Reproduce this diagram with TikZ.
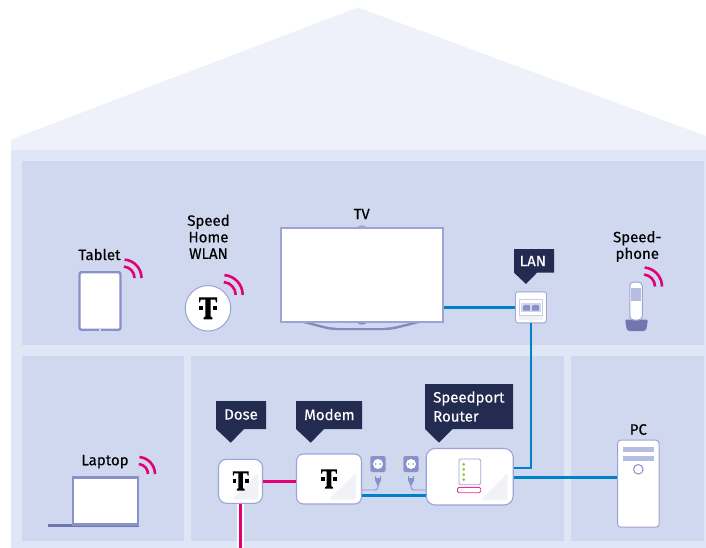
\documentclass[tikz,border=0pt]{standalone}
\usepackage{fontspec}
\setmainfont{Fira Sans}
\newfontfamily\boldish{Fira Sans}[FakeBold=0.35]
\usetikzlibrary{calc}
\definecolor{roofc}{HTML}{EEF1F9}
\definecolor{wallc}{HTML}{DFE7F6}
\definecolor{roomc}{HTML}{CFD8EF}
\definecolor{edgec}{HTML}{9DA3D6}
\definecolor{devc}{HTML}{8A90C8}
\definecolor{darkdev}{HTML}{7076AE}
\definecolor{softc}{HTML}{B5BDE0}
\definecolor{navy}{HTML}{242B50}
\definecolor{magc}{HTML}{E20074}
\definecolor{bluec}{HTML}{0082C8}
\definecolor{foldc}{HTML}{F1F2F8}
\definecolor{greenc}{HTML}{8CC63F}
\tikzset{
 x=1pt,y=-1pt,
 room/.style={fill=roomc,draw=none},
 lbl/.style={font=\boldish\fontsize{15}{16.5}\selectfont,text=black,align=center,inner sep=0pt},
 tag/.style={font=\boldish\fontsize{15}{21}\selectfont,text=white,align=left,inner sep=0pt,anchor=west},
 tagbox/.style={fill=navy,draw=none},
 box/.style={draw=edgec,fill=white,line width=1.1pt,rounded corners=7pt,inner sep=0pt},
 wifi/.style={draw=magc,line width=2.6pt},
 magl/.style={draw=magc,line width=3pt},
 bluel/.style={draw=bluec,line width=3pt},
 bluethin/.style={draw=bluec,line width=2.4pt},
 thinl/.style={draw=devc,line width=0.9pt,rounded corners=3pt},
}
% #1 = centre x, #2 = centre y, #3 = scale : T logo
\newcommand{\tlogo}[3]{%
 \begin{scope}[shift={(#1,#2)},scale=#3]
 \fill[black] (-9,-11) -- (9,-11) -- (9,-6) -- (8,-6) -- (7.3,-8.8) -- (2.6,-8.8)
  -- (2.6,8.2) -- (4.4,9.2) -- (4.4,11) -- (-4.4,11) -- (-4.4,9.2) -- (-2.6,8.2)
  -- (-2.6,-8.8) -- (-7.3,-8.8) -- (-8,-6) -- (-9,-6) -- cycle;
 \fill[black] (-9,-2) rectangle (-5,2);
 \fill[black] (5,-2) rectangle (9,2);
 \end{scope}}
% #1,#2 = arc centre, #3 = outer radius
\newcommand{\wifiarcs}[3]{%
 \draw[wifi] (#1+#3,#2) arc[start angle=0,end angle=-85,radius=#3];
 \draw[wifi] (#1+#3-7,#2) arc[start angle=0,end angle=-85,radius=#3-7];}
% #1 x, #2 y : wall socket and plug
\newcommand{\plug}[2]{%
 \fill[devc,rounded corners=1.5pt] (#1-7.7,#2-8) rectangle (#1+7.7,#2+8);
 \fill[white] (#1,#2) circle (5);
 \fill[devc] (#1-2.2,#2) circle (0.9) (#1+2.2,#2) circle (0.9);
 \fill[devc] (#1-3,#2+12) -- (#1-3,#2+17) -- (#1+3,#2+17) -- (#1+3,#2+12) -- (#1+2,#2+12) -- (#1+2,#2+14) -- (#1-2,#2+14) -- (#1-2,#2+12) -- cycle;
 \fill[devc] (#1-2.5,#2+17) -- (#1+2.5,#2+17) -- (#1,#2+23) -- cycle;}
\begin{document}
\begin{tikzpicture}
\useasboundingbox (0,0) rectangle (706,548);
\fill[white] (0,0) rectangle (706,548);
% house
\fill[roofc] (11,139.5) -- (358,7.5) -- (706,136) -- (706,150) -- (11,150) -- cycle;
\fill[wallc] (11,150) rectangle (706,548);
\fill[room] (22,161) rectangle (704,345);
\fill[room] (22,356) rectangle (184,541);
\fill[room] (191,356) rectangle (564,541);
\fill[room] (571,356) rectangle (704,541);

% devices
\node[draw=devc,fill=white,line width=2.4pt,rounded corners=2pt,minimum width=41pt,minimum height=57.5pt,inner sep=0pt] (tablet) at (100,301) {};
\fill[white] (100,329.8) circle (1);
\node[circle,draw=edgec,fill=white,line width=1pt,minimum size=45.5pt,inner sep=0pt] (wlan) at (208,308.3) {};
\tlogo{208}{308.3}{1}
% TV
\fill[darkdev!85] (298,322) .. controls (318,326) and (325,330) .. (336,330) -- (385,330) .. controls (396,330) and (405,326) .. (424,322) -- cycle;
\fill[roomc] (308,322) .. controls (322,325) and (329,327.8) .. (338,327.8) -- (383,327.8) .. controls (392,327.8) and (400,325) .. (414,322) -- cycle;
\fill[darkdev!85] (357,322) .. controls (358,325.5) and (366,325.5) .. (367,322) -- cycle;
\fill[edgec] (357,228) .. controls (358,224.5) and (366,224.5) .. (367,228) -- cycle;
\node[draw=edgec,fill=white,line width=1.8pt,minimum width=162.5pt,minimum height=93.5pt,inner sep=0pt] (tv) at (362,275) {};
% LAN socket
\node[box,rounded corners=2.5pt,line width=0.9pt,minimum width=31pt,minimum height=31pt] (lan) at (531,307.3) {};
\fill[foldc] (519,315) rectangle (543,320);
\draw[edgec!55,fill=white,line width=0.8pt] (519.5,299.5) rectangle (542.5,315);
\fill[softc!60] (521,303) rectangle (541,312);
\fill[devc] (523,306.5) -- (525,304.8) -- (529,304.8) -- (530,306.5) -- (530,310.5) -- (523,310.5) -- cycle;
\fill[devc] (532,306.5) -- (534,304.8) -- (538,304.8) -- (539,306.5) -- (539,310.5) -- (532,310.5) -- cycle;
% Speedphone
\fill[darkdev,rounded corners=2pt] (625,319.5) -- (648,319.5) -- (646,331) -- (627,331) -- cycle;
\node[draw=edgec,fill=white,line width=1pt,rounded corners=4pt,minimum width=12.5pt,minimum height=38pt,inner sep=0pt] (phone) at (636,301) {};
\fill[softc] (631,288.3) rectangle (641,301);
% Laptop
\fill[darkdev] (48,524) rectangle (139,527);
\node[draw=devc,fill=white,line width=2.2pt,minimum width=65pt,minimum height=47pt,inner sep=0pt] (laptop) at (105.5,501) {};
% Dose
\node[box,rounded corners=8pt,minimum width=44pt,minimum height=44pt] (dose) at (240.5,481.3) {};
\fill[foldc,rounded corners=2pt] (232,499.5) -- (258.3,472.7) -- (258.3,499.5) -- cycle;
\tlogo{240.7}{481}{0.88}
% Modem
\node[box,minimum width=65pt,minimum height=50pt] (modem) at (329,479) {};
\fill[foldc,rounded corners=2pt] (329,499.5) -- (356,473) -- (356,499.5) -- cycle;
\tlogo{329}{479}{0.88}
% Router
\node[box,rounded corners=9pt,minimum width=87pt,minimum height=56.5pt] (router) at (469.7,476.7) {};
\fill[foldc,rounded corners=2pt] (481,500) -- (507.7,473) -- (507.7,500) -- cycle;
\draw[edgec,fill=white,line width=0.9pt,rounded corners=1.5pt] (459,459) rectangle (480.7,484.7);
\foreach \yy in {464.3,469.3,474.7,479.7} \fill[greenc] (463.7,\yy) circle (1.5);
\draw[magc!80,fill=white,line width=0.9pt,rounded corners=1.5pt] (457.5,487.3) rectangle (480.7,492.7);
% PC
\node[draw=edgec,fill=white,line width=1pt,rounded corners=3pt,minimum width=41.5pt,minimum height=87pt,inner sep=0pt] (pc) at (638.3,483.7) {};
\fill[softc] (622.7,446.7) rectangle (654,452.3);
\fill[softc] (622.7,456) rectangle (654,461);
\draw[devc,line width=1pt] (638.3,469.3) circle (4.8);
% plugs
\plug{378}{464}
\plug{411}{464}
\coordinate (plugA) at (378,486);
\coordinate (plugB) at (411,486);
\draw[thinl] (modem.east |- 0,490) -- (378,490) -- (plugA);
\draw[thinl] (router.west |- 0,490) -- (411,490) -- (plugB);

% connectors
\coordinate (doseOut) at (240.5,548);
\draw[white,line width=6.5pt] (dose.south) -- (doseOut);
\draw[magl] (dose.south) -- (doseOut);
\draw[magl] (dose.east) -- (modem.west |- dose.east);
\draw[bluel] (modem.east |- 0,495.3) -- (router.west |- 0,495.3);
\draw[bluel] (router.east |- 0,477.3) -- (pc.west |- 0,477.3);
\draw[bluethin] (router.east |- 0,467.7) -- (531,467.7) -- (lan.south);
\draw[bluel] (tv.east |- 0,307.3) -- (lan.west |- 0,307.3);

% wifi arcs
\wifiarcs{123}{278}{18.5}
\wifiarcs{222.7}{295}{20}
\wifiarcs{643}{286.5}{19}
\wifiarcs{138}{474}{17}

% labels
\node[lbl] (t1) at (99.5,254.5) {Tablet};
\node[lbl] (t2) at (208.5,236.7) {Speed\\Home\\WLAN};
\node[lbl] (t3) at (361.7,214) {TV};
\node[lbl] (t4) at (637.3,246.5) {Speed-\\phone};
\node[lbl] (t5) at (105,461.7) {Laptop};
\node[lbl] (t6) at (638.3,429.5) {PC};

% dark tags
\fill[tagbox] (514,249) -- (554,249) -- (554,272.7) -- (537,272.7) -- (526,284) -- (514,272.7) -- cycle;
\node[tag] (lanT) at (519.5,261) {LAN};
\fill[tagbox] (216,401) -- (266,401) -- (266,429) -- (244,429) -- (230.7,442.7) -- (216,429) -- cycle;
\node[tag] (doseT) at (224,414.5) {Dose};
\fill[tagbox] (296,401) -- (362,401) -- (362,429) -- (324,429) -- (310.7,442.7) -- (296,429) -- cycle;
\node[tag] (modemT) at (304,414.5) {Modem};
\fill[tagbox] (425,384) -- (513,384) -- (513,429) -- (452.7,429) -- (439,442.7) -- (425,429) -- cycle;
\node[tag,font=\boldish\fontsize{15}{19}\selectfont] (routerT) at (433,406.5) {Speedport\\Router};
\end{tikzpicture}
\end{document}
